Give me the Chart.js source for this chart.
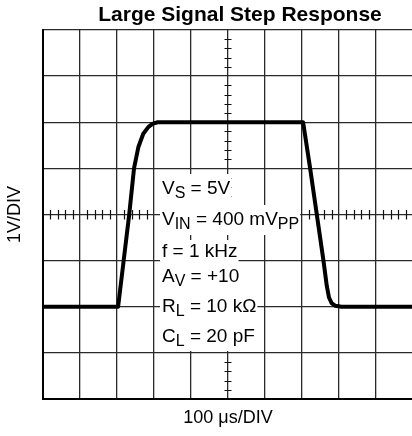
<!DOCTYPE html>
<html><head><meta charset="utf-8">
<script src="https://cdn.jsdelivr.net/npm/chart.js@4.4.1/dist/chart.umd.min.js"></script>
<style>html,body{margin:0;padding:0;overflow:hidden;background:#fff}canvas{display:block}</style>
</head><body>
<canvas id="c" width="414" height="436" style="width:414px;height:436px"></canvas>
<script>
// ---- data (time in divisions, output in divisions = volts) ----
const timeDiv = [0, 2.03, 2.18, 2.33, 2.46, 2.58, 2.71, 2.85, 2.97, 3.1, 7.03, 7.22, 7.40, 7.58, 7.67, 7.73, 7.8, 7.9, 8.07, 10];
const outputV = [-2, -2, -1, 0, 1, 1.47, 1.75, 1.9, 1.97, 2, 2, 1, 0, -1, -1.55, -1.8, -1.92, -1.98, -2, -2];
const xDivisions = [0, 10];
const yDivisions = [-4, 4];
const titleText = 'Large Signal Step Response';
const xAxisLabel = '100 \u03bcs/DIV';
const yAxisLabel = '1V/DIV';
// condition text: segments of [text, isSubscript]
const conditionLines = [
  [['V', false], ['S', true], [' = 5V', false]],
  [['V', false], ['IN', true], [' = 400 mV', false], ['PP', true]],
  [['f = 1 kHz', false]],
  [['A', false], ['V', true], [' = +10', false]],
  [['R', false], ['L', true], [' = 10 k\u03a9', false]],
  [['C', false], ['L', true], [' = 20 pF', false]]
];

const FONT = 'Arial, "Liberation Sans", Helvetica, sans-serif';

const scopePlugin = {
  id: 'scope',
  beforeDatasetsDraw(chart) {
    const {ctx, scales: {x, y}} = chart;
    ctx.save();
    ctx.strokeStyle = '#111';
    ctx.lineWidth = 1.2;
    const cx = x.getPixelForValue(5), cy = y.getPixelForValue(0);
    ctx.beginPath();
    for (let v = yDivisions[0]; v < yDivisions[1]; v++) {
      for (let k = 1; k < 5; k++) {
        const py = Math.round(y.getPixelForValue(v + k / 5)) + 0.5;
        ctx.moveTo(cx - 3.5, py); ctx.lineTo(cx + 3.5, py);
      }
    }
    for (let v = xDivisions[0]; v < xDivisions[1]; v++) {
      for (let k = 1; k < 5; k++) {
        const px = Math.round(x.getPixelForValue(v + k / 5)) + 0.5;
        ctx.moveTo(px, cy - 4.5); ctx.lineTo(px, cy + 5);
      }
    }
    ctx.stroke();
    ctx.restore();
  },
  afterDatasetsDraw(chart) {
    const {ctx} = chart;
    ctx.save();
    // condition text block
    const left = 162;
    const baselines = [194, 225, 257, 282, 312, 342];
    const tops = [174, 205, 240, 262, 292, 322];
    const bottoms = [205, 235, 262, 292, 322, 351];
    const mainFont = '19px ' + FONT, subFont = '16px ' + FONT;
    conditionLines.forEach((segs, i) => {
      let w = 0;
      segs.forEach(([t, sub]) => { ctx.font = sub ? subFont : mainFont; w += ctx.measureText(t).width; });
      ctx.fillStyle = '#fff';
      ctx.fillRect(left - 2, tops[i], w + 3, bottoms[i] - tops[i]);
      let px = left;
      ctx.fillStyle = '#000';
      ctx.textBaseline = 'alphabetic';
      ctx.textAlign = 'left';
      segs.forEach(([t, sub]) => {
        ctx.font = sub ? subFont : mainFont;
        ctx.fillText(t, px, baselines[i] + (sub ? 4 : 0));
        px += ctx.measureText(t).width;
      });
    });
    // title
    ctx.font = 'bold 21px ' + FONT;
    ctx.textAlign = 'center';
    ctx.fillStyle = '#000';
    ctx.fillText(titleText, 240, 21);
    ctx.restore();
  }
};

new Chart(document.getElementById('c'), {
  type: 'line',
  data: {
    datasets: [{
      data: timeDiv.map((t, i) => ({x: t, y: outputV[i]})),
      borderColor: '#000',
      borderWidth: 4,
      pointRadius: 0,
      tension: 0,
      borderJoinStyle: 'round',
      borderCapStyle: 'butt',
      fill: false
    }]
  },
  options: {
    responsive: false,
    animation: false,
    devicePixelRatio: 1,
    layout: {padding: {left: 0, top: 30, right: 1, bottom: 0}},
    plugins: {legend: {display: false}, tooltip: {enabled: false}, title: {display: false}},
    scales: {
      x: {
        type: 'linear', min: xDivisions[0], max: xDivisions[1],
        ticks: {display: false, stepSize: 1},
        grid: {color: '#2a2a2a', lineWidth: 1.3, drawTicks: false},
        border: {color: '#000', width: 2},
        title: {display: true, text: xAxisLabel, color: '#000', font: {family: FONT, size: 18}, padding: {top: 8, bottom: 7.4}}
      },
      y: {
        type: 'linear', min: yDivisions[0], max: yDivisions[1],
        ticks: {display: false, stepSize: 1},
        grid: {color: '#2a2a2a', lineWidth: 1.3, drawTicks: false},
        border: {color: '#000', width: 2},
        title: {display: true, text: yAxisLabel, color: '#000', font: {family: FONT, size: 18}, padding: {top: 4, bottom: 17.4}}
      }
    }
  },
  plugins: [scopePlugin]
});
</script>
</body></html>
